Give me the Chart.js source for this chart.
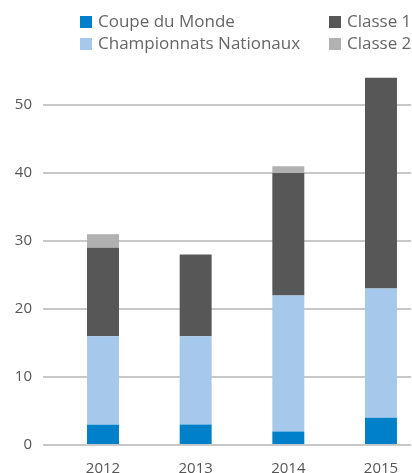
<!DOCTYPE html>
<html>
<head>
<meta charset="utf-8">
<script src="https://cdn.jsdelivr.net/npm/chart.js@4/dist/chart.umd.min.js"></script>
<style>
  html, body { margin: 0; padding: 0; background: #fff; }
  #wrap { position: relative; width: 412px; height: 473px; }
  #legend { position: absolute; left: 0; top: 0; width: 412px; height: 60px; font-family: "Open Sans", sans-serif; font-size: 17px; color: #666; }
  .item { position: absolute; white-space: nowrap; line-height: 20px; }
  .sw { display: inline-block; width: 12px; height: 12px; margin-right: 6px; vertical-align: -1px; }
  canvas { position: absolute; left: 0; top: 0; }
</style>
</head>
<body>
<div id="wrap">
  <canvas id="c" width="412" height="473"></canvas>
  <div id="legend"></div>
</div>
<script>
const years = ['2012', '2013', '2014', '2015'];
const coupeDuMonde = [3, 3, 2, 4];
const championnatsNationaux = [13, 13, 20, 19];
const classe1 = [13, 12, 18, 31];
const classe2 = [2, 0, 1, 0];
const seriesNames = ['Coupe du Monde', 'Championnats Nationaux', 'Classe 1', 'Classe 2'];
const seriesColors = ['#0080c8', '#a6c8eb', '#575757', '#b1b1b1'];
const yTicks = [0, 10, 20, 30, 40, 50];

const seriesValues = [coupeDuMonde, championnatsNationaux, classe1, classe2];

// HTML legend (two columns)
const legendPos = [[80, 11], [80, 33], [329, 11], [329, 33]];
const legend = document.getElementById('legend');
seriesNames.forEach((n, i) => {
  const d = document.createElement('div');
  d.className = 'item';
  d.style.left = legendPos[i][0] + 'px';
  d.style.top = legendPos[i][1] + 'px';
  d.innerHTML = '<span class="sw" style="background:' + seriesColors[i] + '"></span>' + n;
  legend.appendChild(d);
});

const datasets = seriesNames.map((n, i) => ({
  label: n,
  data: seriesValues[i].map((v, j) => ({ x: j, y: v })),
  backgroundColor: seriesColors[i],
  borderWidth: 0,
  categoryPercentage: 1,
  barPercentage: 0.345
}));

new Chart(document.getElementById('c'), {
  type: 'bar',
  data: { datasets },
  options: {
    responsive: false,
    animation: false,
    layout: { padding: { top: 71, left: 0, right: 1, bottom: 0 } },
    plugins: { legend: { display: false }, tooltip: { enabled: false } },
    scales: {
      x: {
        type: 'linear',
        stacked: true,
        offset: false,
        min: -0.6475,
        max: 3.324,
        grid: { display: false },
        border: { display: false },
        afterBuildTicks: s => { s.ticks = years.map((y, i) => ({ value: i })); },
        afterFit: s => { s.height = 28; },
        ticks: {
          callback: v => years[v],
          color: '#555',
          font: { family: 'Open Sans', size: 15 },
          padding: 7,
          maxRotation: 0
        }
      },
      y: {
        stacked: true,
        min: 0,
        max: 55,
        afterBuildTicks: s => { s.ticks = yTicks.map(v => ({ value: v })); },
        afterFit: s => { s.width = 43; },
        grid: { color: '#c8c8c8', lineWidth: 2, drawTicks: false },
        border: { display: false },
        ticks: {
          color: '#555',
          font: { family: 'Open Sans', size: 15 },
          padding: 11
        }
      }
    }
  }
});
</script>
</body>
</html>
